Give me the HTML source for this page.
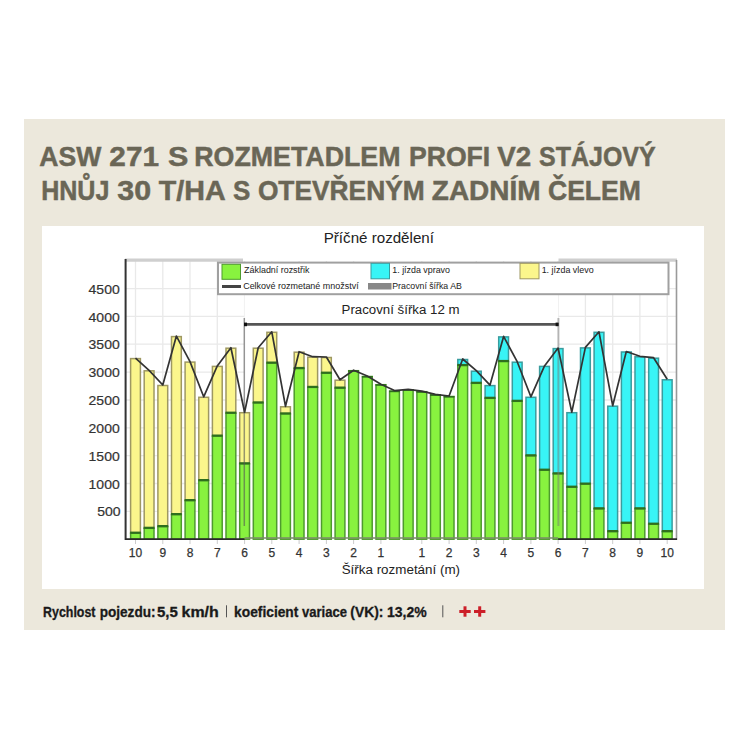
<!DOCTYPE html>
<html><head><meta charset="utf-8"><style>
html,body{margin:0;padding:0;width:750px;height:750px;overflow:hidden;background:#fff}
svg{position:absolute;left:0;top:0;display:block}
text{font-family:"Liberation Sans",sans-serif}
</style></head><body>
<svg width="750" height="750" viewBox="0 0 750 750">
<rect x="24" y="119" width="701" height="511" fill="#ECE8DC"/>
<rect x="42" y="226" width="662" height="363" fill="#fff"/>
<line x1="126" y1="511.4" x2="676" y2="511.4" stroke="#E9E9E9" stroke-width="1.3"/>
<line x1="126" y1="483.5" x2="676" y2="483.5" stroke="#E9E9E9" stroke-width="1.3"/>
<line x1="126" y1="455.7" x2="676" y2="455.7" stroke="#E9E9E9" stroke-width="1.3"/>
<line x1="126" y1="427.8" x2="676" y2="427.8" stroke="#E9E9E9" stroke-width="1.3"/>
<line x1="126" y1="400.0" x2="676" y2="400.0" stroke="#E9E9E9" stroke-width="1.3"/>
<line x1="126" y1="372.1" x2="676" y2="372.1" stroke="#E9E9E9" stroke-width="1.3"/>
<line x1="126" y1="344.2" x2="676" y2="344.2" stroke="#E9E9E9" stroke-width="1.3"/>
<line x1="126" y1="316.4" x2="676" y2="316.4" stroke="#E9E9E9" stroke-width="1.3"/>
<line x1="126" y1="288.6" x2="676" y2="288.6" stroke="#E9E9E9" stroke-width="1.3"/>
<line x1="135.5" y1="261" x2="135.5" y2="539.2" stroke="#E9E9E9" stroke-width="1.3"/>
<line x1="162.8" y1="261" x2="162.8" y2="539.2" stroke="#E9E9E9" stroke-width="1.3"/>
<line x1="190.0" y1="261" x2="190.0" y2="539.2" stroke="#E9E9E9" stroke-width="1.3"/>
<line x1="217.3" y1="261" x2="217.3" y2="539.2" stroke="#E9E9E9" stroke-width="1.3"/>
<line x1="244.6" y1="261" x2="244.6" y2="539.2" stroke="#E9E9E9" stroke-width="1.3"/>
<line x1="271.8" y1="261" x2="271.8" y2="539.2" stroke="#E9E9E9" stroke-width="1.3"/>
<line x1="299.1" y1="261" x2="299.1" y2="539.2" stroke="#E9E9E9" stroke-width="1.3"/>
<line x1="326.4" y1="261" x2="326.4" y2="539.2" stroke="#E9E9E9" stroke-width="1.3"/>
<line x1="353.6" y1="261" x2="353.6" y2="539.2" stroke="#E9E9E9" stroke-width="1.3"/>
<line x1="380.9" y1="261" x2="380.9" y2="539.2" stroke="#E9E9E9" stroke-width="1.3"/>
<line x1="421.8" y1="261" x2="421.8" y2="539.2" stroke="#E9E9E9" stroke-width="1.3"/>
<line x1="449.1" y1="261" x2="449.1" y2="539.2" stroke="#E9E9E9" stroke-width="1.3"/>
<line x1="476.3" y1="261" x2="476.3" y2="539.2" stroke="#E9E9E9" stroke-width="1.3"/>
<line x1="503.6" y1="261" x2="503.6" y2="539.2" stroke="#E9E9E9" stroke-width="1.3"/>
<line x1="530.9" y1="261" x2="530.9" y2="539.2" stroke="#E9E9E9" stroke-width="1.3"/>
<line x1="558.1" y1="261" x2="558.1" y2="539.2" stroke="#E9E9E9" stroke-width="1.3"/>
<line x1="585.4" y1="261" x2="585.4" y2="539.2" stroke="#E9E9E9" stroke-width="1.3"/>
<line x1="612.7" y1="261" x2="612.7" y2="539.2" stroke="#E9E9E9" stroke-width="1.3"/>
<line x1="639.9" y1="261" x2="639.9" y2="539.2" stroke="#E9E9E9" stroke-width="1.3"/>
<line x1="667.2" y1="261" x2="667.2" y2="539.2" stroke="#E9E9E9" stroke-width="1.3"/>
<rect x="244.6" y="294" width="313.6" height="245.2" fill="#fff"/>
<rect x="130.6" y="358.6" width="9.8" height="174.6" fill="#FBF68C" stroke="#9E9862" stroke-width="1.5"/>
<rect x="130.6" y="533.2" width="9.8" height="6.0" fill="#88F23F" stroke="#4E9A2E" stroke-width="1.5"/>
<line x1="130.1" y1="532.7" x2="140.9" y2="532.7" stroke="#2F6E1E" stroke-width="2.2"/>
<rect x="144.2" y="370.8" width="9.8" height="157.5" fill="#FBF68C" stroke="#9E9862" stroke-width="1.5"/>
<rect x="144.2" y="528.3" width="9.8" height="10.9" fill="#88F23F" stroke="#4E9A2E" stroke-width="1.5"/>
<line x1="143.7" y1="527.8" x2="154.5" y2="527.8" stroke="#2F6E1E" stroke-width="2.2"/>
<rect x="157.9" y="385.5" width="9.8" height="141.1" fill="#FBF68C" stroke="#9E9862" stroke-width="1.5"/>
<rect x="157.9" y="526.6" width="9.8" height="12.6" fill="#88F23F" stroke="#4E9A2E" stroke-width="1.5"/>
<line x1="157.4" y1="526.1" x2="168.2" y2="526.1" stroke="#2F6E1E" stroke-width="2.2"/>
<rect x="171.5" y="336.6" width="9.8" height="178.0" fill="#FBF68C" stroke="#9E9862" stroke-width="1.5"/>
<rect x="171.5" y="514.6" width="9.8" height="24.6" fill="#88F23F" stroke="#4E9A2E" stroke-width="1.5"/>
<line x1="171.0" y1="514.1" x2="181.8" y2="514.1" stroke="#2F6E1E" stroke-width="2.2"/>
<rect x="185.1" y="362.1" width="9.8" height="138.5" fill="#FBF68C" stroke="#9E9862" stroke-width="1.5"/>
<rect x="185.1" y="500.6" width="9.8" height="38.6" fill="#88F23F" stroke="#4E9A2E" stroke-width="1.5"/>
<line x1="184.6" y1="500.1" x2="195.4" y2="500.1" stroke="#2F6E1E" stroke-width="2.2"/>
<rect x="198.8" y="397.3" width="9.8" height="83.3" fill="#FBF68C" stroke="#9E9862" stroke-width="1.5"/>
<rect x="198.8" y="480.6" width="9.8" height="58.6" fill="#88F23F" stroke="#4E9A2E" stroke-width="1.5"/>
<line x1="198.3" y1="480.1" x2="209.1" y2="480.1" stroke="#2F6E1E" stroke-width="2.2"/>
<rect x="212.4" y="366.4" width="9.8" height="69.7" fill="#FBF68C" stroke="#9E9862" stroke-width="1.5"/>
<rect x="212.4" y="436.1" width="9.8" height="103.1" fill="#88F23F" stroke="#4E9A2E" stroke-width="1.5"/>
<line x1="211.9" y1="435.6" x2="222.7" y2="435.6" stroke="#2F6E1E" stroke-width="2.2"/>
<rect x="226.0" y="348.2" width="9.8" height="65.0" fill="#FBF68C" stroke="#9E9862" stroke-width="1.5"/>
<rect x="226.0" y="413.2" width="9.8" height="126.0" fill="#88F23F" stroke="#4E9A2E" stroke-width="1.5"/>
<line x1="225.5" y1="412.7" x2="236.3" y2="412.7" stroke="#2F6E1E" stroke-width="2.2"/>
<rect x="239.7" y="412.7" width="9.8" height="51.1" fill="#FBF68C" stroke="#9E9862" stroke-width="1.5"/>
<rect x="239.7" y="463.8" width="9.8" height="75.4" fill="#88F23F" stroke="#4E9A2E" stroke-width="1.5"/>
<line x1="239.2" y1="463.3" x2="250.0" y2="463.3" stroke="#2F6E1E" stroke-width="2.2"/>
<rect x="253.3" y="348.2" width="9.8" height="54.7" fill="#FBF68C" stroke="#9E9862" stroke-width="1.5"/>
<rect x="253.3" y="402.9" width="9.8" height="136.3" fill="#88F23F" stroke="#4E9A2E" stroke-width="1.5"/>
<line x1="252.8" y1="402.4" x2="263.6" y2="402.4" stroke="#2F6E1E" stroke-width="2.2"/>
<rect x="266.9" y="332.3" width="9.8" height="30.8" fill="#FBF68C" stroke="#9E9862" stroke-width="1.5"/>
<rect x="266.9" y="363.1" width="9.8" height="176.1" fill="#88F23F" stroke="#4E9A2E" stroke-width="1.5"/>
<line x1="266.4" y1="362.6" x2="277.2" y2="362.6" stroke="#2F6E1E" stroke-width="2.2"/>
<rect x="280.6" y="406.8" width="9.8" height="7.1" fill="#FBF68C" stroke="#9E9862" stroke-width="1.5"/>
<rect x="280.6" y="413.9" width="9.8" height="125.3" fill="#88F23F" stroke="#4E9A2E" stroke-width="1.5"/>
<line x1="280.1" y1="413.4" x2="290.9" y2="413.4" stroke="#2F6E1E" stroke-width="2.2"/>
<rect x="294.2" y="352.2" width="9.8" height="16.3" fill="#FBF68C" stroke="#9E9862" stroke-width="1.5"/>
<rect x="294.2" y="368.5" width="9.8" height="170.7" fill="#88F23F" stroke="#4E9A2E" stroke-width="1.5"/>
<line x1="293.7" y1="368.0" x2="304.5" y2="368.0" stroke="#2F6E1E" stroke-width="2.2"/>
<rect x="307.8" y="357.2" width="9.8" height="30.2" fill="#FBF68C" stroke="#9E9862" stroke-width="1.5"/>
<rect x="307.8" y="387.4" width="9.8" height="151.8" fill="#88F23F" stroke="#4E9A2E" stroke-width="1.5"/>
<line x1="307.3" y1="386.9" x2="318.1" y2="386.9" stroke="#2F6E1E" stroke-width="2.2"/>
<rect x="321.5" y="357.5" width="9.8" height="15.7" fill="#FBF68C" stroke="#9E9862" stroke-width="1.5"/>
<rect x="321.5" y="373.2" width="9.8" height="166.0" fill="#88F23F" stroke="#4E9A2E" stroke-width="1.5"/>
<line x1="321.0" y1="372.7" x2="331.8" y2="372.7" stroke="#2F6E1E" stroke-width="2.2"/>
<rect x="335.1" y="380.2" width="9.8" height="7.9" fill="#FBF68C" stroke="#9E9862" stroke-width="1.5"/>
<rect x="335.1" y="388.1" width="9.8" height="151.1" fill="#88F23F" stroke="#4E9A2E" stroke-width="1.5"/>
<line x1="334.6" y1="387.6" x2="345.4" y2="387.6" stroke="#2F6E1E" stroke-width="2.2"/>
<rect x="348.7" y="370.7" width="9.8" height="168.5" fill="#88F23F" stroke="#4E9A2E" stroke-width="1.5"/>
<line x1="348.2" y1="371.0" x2="359.0" y2="371.0" stroke="#2F6E1E" stroke-width="1.6"/>
<rect x="362.4" y="376.5" width="9.8" height="162.7" fill="#88F23F" stroke="#4E9A2E" stroke-width="1.5"/>
<line x1="361.9" y1="376.8" x2="372.7" y2="376.8" stroke="#2F6E1E" stroke-width="1.6"/>
<rect x="376.0" y="384.7" width="9.8" height="154.5" fill="#88F23F" stroke="#4E9A2E" stroke-width="1.5"/>
<line x1="375.5" y1="385.0" x2="386.3" y2="385.0" stroke="#2F6E1E" stroke-width="1.6"/>
<rect x="389.6" y="391.1" width="9.8" height="148.1" fill="#88F23F" stroke="#4E9A2E" stroke-width="1.5"/>
<line x1="389.1" y1="391.4" x2="399.9" y2="391.4" stroke="#2F6E1E" stroke-width="1.6"/>
<rect x="403.3" y="389.8" width="9.8" height="149.4" fill="#88F23F" stroke="#4E9A2E" stroke-width="1.5"/>
<line x1="402.8" y1="390.1" x2="413.6" y2="390.1" stroke="#2F6E1E" stroke-width="1.6"/>
<rect x="416.9" y="391.7" width="9.8" height="147.5" fill="#88F23F" stroke="#4E9A2E" stroke-width="1.5"/>
<line x1="416.4" y1="392.0" x2="427.2" y2="392.0" stroke="#2F6E1E" stroke-width="1.6"/>
<rect x="430.5" y="394.8" width="9.8" height="144.4" fill="#88F23F" stroke="#4E9A2E" stroke-width="1.5"/>
<line x1="430.0" y1="395.1" x2="440.8" y2="395.1" stroke="#2F6E1E" stroke-width="1.6"/>
<rect x="444.2" y="396.5" width="9.8" height="142.7" fill="#88F23F" stroke="#4E9A2E" stroke-width="1.5"/>
<line x1="443.7" y1="396.8" x2="454.5" y2="396.8" stroke="#2F6E1E" stroke-width="1.6"/>
<rect x="457.8" y="359.5" width="9.8" height="6.0" fill="#38F4F6" stroke="#3A9C9E" stroke-width="1.5"/>
<rect x="457.8" y="365.5" width="9.8" height="173.7" fill="#88F23F" stroke="#4E9A2E" stroke-width="1.5"/>
<line x1="457.3" y1="365.0" x2="468.1" y2="365.0" stroke="#2F6E1E" stroke-width="2.2"/>
<rect x="471.4" y="371.2" width="9.8" height="12.1" fill="#38F4F6" stroke="#3A9C9E" stroke-width="1.5"/>
<rect x="471.4" y="383.3" width="9.8" height="155.9" fill="#88F23F" stroke="#4E9A2E" stroke-width="1.5"/>
<line x1="470.9" y1="382.8" x2="481.7" y2="382.8" stroke="#2F6E1E" stroke-width="2.2"/>
<rect x="485.1" y="385.6" width="9.8" height="12.7" fill="#38F4F6" stroke="#3A9C9E" stroke-width="1.5"/>
<rect x="485.1" y="398.3" width="9.8" height="140.9" fill="#88F23F" stroke="#4E9A2E" stroke-width="1.5"/>
<line x1="484.6" y1="397.8" x2="495.4" y2="397.8" stroke="#2F6E1E" stroke-width="2.2"/>
<rect x="498.7" y="336.9" width="9.8" height="24.6" fill="#38F4F6" stroke="#3A9C9E" stroke-width="1.5"/>
<rect x="498.7" y="361.5" width="9.8" height="177.7" fill="#88F23F" stroke="#4E9A2E" stroke-width="1.5"/>
<line x1="498.2" y1="361.0" x2="509.0" y2="361.0" stroke="#2F6E1E" stroke-width="2.2"/>
<rect x="512.3" y="362.2" width="9.8" height="39.1" fill="#38F4F6" stroke="#3A9C9E" stroke-width="1.5"/>
<rect x="512.3" y="401.3" width="9.8" height="137.9" fill="#88F23F" stroke="#4E9A2E" stroke-width="1.5"/>
<line x1="511.8" y1="400.8" x2="522.6" y2="400.8" stroke="#2F6E1E" stroke-width="2.2"/>
<rect x="526.0" y="397.3" width="9.8" height="58.5" fill="#38F4F6" stroke="#3A9C9E" stroke-width="1.5"/>
<rect x="526.0" y="455.8" width="9.8" height="83.4" fill="#88F23F" stroke="#4E9A2E" stroke-width="1.5"/>
<line x1="525.5" y1="455.3" x2="536.3" y2="455.3" stroke="#2F6E1E" stroke-width="2.2"/>
<rect x="539.6" y="366.4" width="9.8" height="103.8" fill="#38F4F6" stroke="#3A9C9E" stroke-width="1.5"/>
<rect x="539.6" y="470.2" width="9.8" height="69.0" fill="#88F23F" stroke="#4E9A2E" stroke-width="1.5"/>
<line x1="539.1" y1="469.7" x2="549.9" y2="469.7" stroke="#2F6E1E" stroke-width="2.2"/>
<rect x="553.2" y="348.6" width="9.8" height="125.2" fill="#38F4F6" stroke="#3A9C9E" stroke-width="1.5"/>
<rect x="553.2" y="473.8" width="9.8" height="65.4" fill="#88F23F" stroke="#4E9A2E" stroke-width="1.5"/>
<line x1="552.7" y1="473.3" x2="563.5" y2="473.3" stroke="#2F6E1E" stroke-width="2.2"/>
<rect x="566.9" y="412.7" width="9.8" height="74.5" fill="#38F4F6" stroke="#3A9C9E" stroke-width="1.5"/>
<rect x="566.9" y="487.2" width="9.8" height="52.0" fill="#88F23F" stroke="#4E9A2E" stroke-width="1.5"/>
<line x1="566.4" y1="486.7" x2="577.2" y2="486.7" stroke="#2F6E1E" stroke-width="2.2"/>
<rect x="580.5" y="347.9" width="9.8" height="136.2" fill="#38F4F6" stroke="#3A9C9E" stroke-width="1.5"/>
<rect x="580.5" y="484.1" width="9.8" height="55.1" fill="#88F23F" stroke="#4E9A2E" stroke-width="1.5"/>
<line x1="580.0" y1="483.6" x2="590.8" y2="483.6" stroke="#2F6E1E" stroke-width="2.2"/>
<rect x="594.1" y="332.3" width="9.8" height="176.5" fill="#38F4F6" stroke="#3A9C9E" stroke-width="1.5"/>
<rect x="594.1" y="508.8" width="9.8" height="30.4" fill="#88F23F" stroke="#4E9A2E" stroke-width="1.5"/>
<line x1="593.6" y1="508.3" x2="604.4" y2="508.3" stroke="#2F6E1E" stroke-width="2.2"/>
<rect x="607.8" y="406.2" width="9.8" height="125.4" fill="#38F4F6" stroke="#3A9C9E" stroke-width="1.5"/>
<rect x="607.8" y="531.6" width="9.8" height="7.6" fill="#88F23F" stroke="#4E9A2E" stroke-width="1.5"/>
<line x1="607.3" y1="531.1" x2="618.1" y2="531.1" stroke="#2F6E1E" stroke-width="2.2"/>
<rect x="621.4" y="352.0" width="9.8" height="171.2" fill="#38F4F6" stroke="#3A9C9E" stroke-width="1.5"/>
<rect x="621.4" y="523.2" width="9.8" height="16.0" fill="#88F23F" stroke="#4E9A2E" stroke-width="1.5"/>
<line x1="620.9" y1="522.7" x2="631.7" y2="522.7" stroke="#2F6E1E" stroke-width="2.2"/>
<rect x="635.0" y="356.8" width="9.8" height="152.0" fill="#38F4F6" stroke="#3A9C9E" stroke-width="1.5"/>
<rect x="635.0" y="508.8" width="9.8" height="30.4" fill="#88F23F" stroke="#4E9A2E" stroke-width="1.5"/>
<line x1="634.5" y1="508.3" x2="645.3" y2="508.3" stroke="#2F6E1E" stroke-width="2.2"/>
<rect x="648.7" y="358.2" width="9.8" height="166.0" fill="#38F4F6" stroke="#3A9C9E" stroke-width="1.5"/>
<rect x="648.7" y="524.2" width="9.8" height="15.0" fill="#88F23F" stroke="#4E9A2E" stroke-width="1.5"/>
<line x1="648.2" y1="523.7" x2="659.0" y2="523.7" stroke="#2F6E1E" stroke-width="2.2"/>
<rect x="662.3" y="379.8" width="9.8" height="151.8" fill="#38F4F6" stroke="#3A9C9E" stroke-width="1.5"/>
<rect x="662.3" y="531.6" width="9.8" height="7.6" fill="#88F23F" stroke="#4E9A2E" stroke-width="1.5"/>
<line x1="661.8" y1="531.1" x2="672.6" y2="531.1" stroke="#2F6E1E" stroke-width="2.2"/>
<line x1="244.3" y1="318" x2="244.3" y2="526" stroke="#555" stroke-opacity="0.6" stroke-width="1.5"/>
<line x1="558.4" y1="318" x2="558.4" y2="526" stroke="#777" stroke-opacity="0.5" stroke-width="2"/>
<line x1="244.3" y1="324.4" x2="558.4" y2="324.4" stroke="#555" stroke-width="2.8"/>
<rect x="244" y="322.6" width="3" height="3.6" fill="#111"/>
<rect x="555.6" y="322.6" width="3" height="3.6" fill="#111"/>
<polyline points="135.5,358.1 149.1,370.3 162.8,385.0 176.4,336.1 190.0,361.6 203.7,396.8 217.3,365.9 230.9,347.7 244.6,412.2 258.2,347.7 271.8,331.8 285.5,406.3 299.1,351.7 312.7,356.7 326.4,357.0 340.0,379.7 353.6,370.2 367.3,376.0 380.9,384.2 394.5,390.6 408.2,389.3 421.8,391.2 435.4,394.3 449.1,396.0 462.7,359.0 476.3,370.7 490.0,385.1 503.6,336.4 517.2,361.7 530.9,396.8 544.5,365.9 558.1,348.1 571.8,412.2 585.4,347.4 599.0,331.8 612.7,405.7 626.3,351.5 639.9,356.3 653.6,357.7 667.2,379.3" fill="none" stroke="#333" stroke-width="1.7" stroke-linejoin="round"/>
<line x1="125" y1="260.2" x2="243" y2="260.2" stroke="#CFCFCF" stroke-width="3.2"/>
<line x1="558.5" y1="260.2" x2="677" y2="260.2" stroke="#CFCFCF" stroke-width="3.2"/>
<line x1="676.5" y1="260" x2="676.5" y2="540" stroke="#9A9A9A" stroke-width="1.6"/>
<line x1="125.6" y1="259" x2="125.6" y2="540" stroke="#333" stroke-width="2"/>
<line x1="125" y1="539.2" x2="244.6" y2="539.2" stroke="#2A2A2A" stroke-width="1.8"/>
<line x1="558.1" y1="539.2" x2="677" y2="539.2" stroke="#2A2A2A" stroke-width="1.8"/>
<line x1="244.6" y1="538" x2="558.1" y2="538" stroke="#7A8A6A" stroke-width="1.6"/>
<line x1="135.5" y1="540" x2="135.5" y2="544" stroke="#CCC" stroke-width="1"/>
<text x="135.5" y="557" font-size="12" text-anchor="middle" fill="#333" stroke="#333" stroke-width="0.25">10</text>
<line x1="162.8" y1="540" x2="162.8" y2="544" stroke="#CCC" stroke-width="1"/>
<text x="162.8" y="557" font-size="12" text-anchor="middle" fill="#333" stroke="#333" stroke-width="0.25">9</text>
<line x1="190.0" y1="540" x2="190.0" y2="544" stroke="#CCC" stroke-width="1"/>
<text x="190.0" y="557" font-size="12" text-anchor="middle" fill="#333" stroke="#333" stroke-width="0.25">8</text>
<line x1="217.3" y1="540" x2="217.3" y2="544" stroke="#CCC" stroke-width="1"/>
<text x="217.3" y="557" font-size="12" text-anchor="middle" fill="#333" stroke="#333" stroke-width="0.25">7</text>
<line x1="244.6" y1="540" x2="244.6" y2="544" stroke="#CCC" stroke-width="1"/>
<text x="244.6" y="557" font-size="12" text-anchor="middle" fill="#333" stroke="#333" stroke-width="0.25">6</text>
<line x1="271.8" y1="540" x2="271.8" y2="544" stroke="#CCC" stroke-width="1"/>
<text x="271.8" y="557" font-size="12" text-anchor="middle" fill="#333" stroke="#333" stroke-width="0.25">5</text>
<line x1="299.1" y1="540" x2="299.1" y2="544" stroke="#CCC" stroke-width="1"/>
<text x="299.1" y="557" font-size="12" text-anchor="middle" fill="#333" stroke="#333" stroke-width="0.25">4</text>
<line x1="326.4" y1="540" x2="326.4" y2="544" stroke="#CCC" stroke-width="1"/>
<text x="326.4" y="557" font-size="12" text-anchor="middle" fill="#333" stroke="#333" stroke-width="0.25">3</text>
<line x1="353.6" y1="540" x2="353.6" y2="544" stroke="#CCC" stroke-width="1"/>
<text x="353.6" y="557" font-size="12" text-anchor="middle" fill="#333" stroke="#333" stroke-width="0.25">2</text>
<line x1="380.9" y1="540" x2="380.9" y2="544" stroke="#CCC" stroke-width="1"/>
<text x="380.9" y="557" font-size="12" text-anchor="middle" fill="#333" stroke="#333" stroke-width="0.25">1</text>
<line x1="421.8" y1="540" x2="421.8" y2="544" stroke="#CCC" stroke-width="1"/>
<text x="421.8" y="557" font-size="12" text-anchor="middle" fill="#333" stroke="#333" stroke-width="0.25">1</text>
<line x1="449.1" y1="540" x2="449.1" y2="544" stroke="#CCC" stroke-width="1"/>
<text x="449.1" y="557" font-size="12" text-anchor="middle" fill="#333" stroke="#333" stroke-width="0.25">2</text>
<line x1="476.3" y1="540" x2="476.3" y2="544" stroke="#CCC" stroke-width="1"/>
<text x="476.3" y="557" font-size="12" text-anchor="middle" fill="#333" stroke="#333" stroke-width="0.25">3</text>
<line x1="503.6" y1="540" x2="503.6" y2="544" stroke="#CCC" stroke-width="1"/>
<text x="503.6" y="557" font-size="12" text-anchor="middle" fill="#333" stroke="#333" stroke-width="0.25">4</text>
<line x1="530.9" y1="540" x2="530.9" y2="544" stroke="#CCC" stroke-width="1"/>
<text x="530.9" y="557" font-size="12" text-anchor="middle" fill="#333" stroke="#333" stroke-width="0.25">5</text>
<line x1="558.1" y1="540" x2="558.1" y2="544" stroke="#CCC" stroke-width="1"/>
<text x="558.1" y="557" font-size="12" text-anchor="middle" fill="#333" stroke="#333" stroke-width="0.25">6</text>
<line x1="585.4" y1="540" x2="585.4" y2="544" stroke="#CCC" stroke-width="1"/>
<text x="585.4" y="557" font-size="12" text-anchor="middle" fill="#333" stroke="#333" stroke-width="0.25">7</text>
<line x1="612.7" y1="540" x2="612.7" y2="544" stroke="#CCC" stroke-width="1"/>
<text x="612.7" y="557" font-size="12" text-anchor="middle" fill="#333" stroke="#333" stroke-width="0.25">8</text>
<line x1="639.9" y1="540" x2="639.9" y2="544" stroke="#CCC" stroke-width="1"/>
<text x="639.9" y="557" font-size="12" text-anchor="middle" fill="#333" stroke="#333" stroke-width="0.25">9</text>
<line x1="667.2" y1="540" x2="667.2" y2="544" stroke="#CCC" stroke-width="1"/>
<text x="667.2" y="557" font-size="12" text-anchor="middle" fill="#333" stroke="#333" stroke-width="0.25">10</text>
<rect x="218" y="262.6" width="450.5" height="31.6" fill="#fff" stroke="#A0A0A0" stroke-width="2"/>
<rect x="222" y="264.3" width="18.5" height="15" fill="#88F23F" stroke="#4E9A2E" stroke-width="1"/>
<rect x="371" y="263.3" width="18.5" height="15.5" fill="#38F4F6" stroke="#3A9C9E" stroke-width="1"/>
<rect x="520" y="263.3" width="19" height="15.5" fill="#FBF68C" stroke="#9E9862" stroke-width="1"/>
<line x1="222" y1="286.5" x2="241" y2="286.5" stroke="#444" stroke-width="3"/>
<rect x="368" y="283" width="23.5" height="6.5" fill="#888"/>
<text x="39.27" y="165.80" font-size="28.5" font-weight="bold" fill="#6A6656" textLength="62.00" lengthAdjust="spacingAndGlyphs"  stroke="#6A6656" stroke-width="0.5">ASW</text>
<text x="109.36" y="165.80" font-size="28.5" font-weight="bold" fill="#6A6656" textLength="49.63" lengthAdjust="spacingAndGlyphs"  stroke="#6A6656" stroke-width="0.5">271</text>
<text x="167.93" y="165.80" font-size="28.5" font-weight="bold" fill="#6A6656" textLength="20.36" lengthAdjust="spacingAndGlyphs"  stroke="#6A6656" stroke-width="0.5">S</text>
<text x="194.22" y="165.80" font-size="28.5" font-weight="bold" fill="#6A6656" textLength="206.32" lengthAdjust="spacingAndGlyphs"  stroke="#6A6656" stroke-width="0.5">ROZMETADLEM</text>
<text x="408.93" y="165.80" font-size="28.5" font-weight="bold" fill="#6A6656" textLength="81.32" lengthAdjust="spacingAndGlyphs"  stroke="#6A6656" stroke-width="0.5">PROFI</text>
<text x="497.30" y="165.80" font-size="28.5" font-weight="bold" fill="#6A6656" textLength="33.95" lengthAdjust="spacingAndGlyphs"  stroke="#6A6656" stroke-width="0.5">V2</text>
<text x="539.12" y="165.80" font-size="28.5" font-weight="bold" fill="#6A6656" textLength="116.49" lengthAdjust="spacingAndGlyphs"  stroke="#6A6656" stroke-width="0.5">STÁJOVÝ</text>
<text x="41.14" y="199.70" font-size="28.5" font-weight="bold" fill="#6A6656" textLength="68.28" lengthAdjust="spacingAndGlyphs"  stroke="#6A6656" stroke-width="0.5">HNŮJ</text>
<text x="117.33" y="199.70" font-size="28.5" font-weight="bold" fill="#6A6656" textLength="33.82" lengthAdjust="spacingAndGlyphs"  stroke="#6A6656" stroke-width="0.5">30</text>
<text x="158.80" y="199.70" font-size="28.5" font-weight="bold" fill="#6A6656" textLength="66.90" lengthAdjust="spacingAndGlyphs"  stroke="#6A6656" stroke-width="0.5">T/HA</text>
<text x="233.09" y="199.70" font-size="28.5" font-weight="bold" fill="#6A6656" textLength="17.34" lengthAdjust="spacingAndGlyphs"  stroke="#6A6656" stroke-width="0.5">S</text>
<text x="257.88" y="199.70" font-size="28.5" font-weight="bold" fill="#6A6656" textLength="166.84" lengthAdjust="spacingAndGlyphs"  stroke="#6A6656" stroke-width="0.5">OTEVŘENÝM</text>
<text x="431.82" y="199.70" font-size="28.5" font-weight="bold" fill="#6A6656" textLength="108.78" lengthAdjust="spacingAndGlyphs"  stroke="#6A6656" stroke-width="0.5">ZADNÍM</text>
<text x="547.97" y="199.70" font-size="28.5" font-weight="bold" fill="#6A6656" textLength="92.96" lengthAdjust="spacingAndGlyphs"  stroke="#6A6656" stroke-width="0.5">ČELEM</text>
<text x="323.72" y="242.70" font-size="14" font-weight="normal" fill="#222" textLength="110.23" lengthAdjust="spacingAndGlyphs" >Příčné rozdělení</text>
<text x="341.59" y="313.70" font-size="12" font-weight="normal" fill="#222" textLength="118.00" lengthAdjust="spacingAndGlyphs" >Pracovní šířka 12 m</text>
<text x="341.68" y="573.80" font-size="12" font-weight="normal" fill="#222" textLength="118.37" lengthAdjust="spacingAndGlyphs" >Šířka rozmetání (m)</text>
<text x="244.10" y="272.80" font-size="9.6" font-weight="normal" fill="#222" textLength="65.35" lengthAdjust="spacingAndGlyphs" >Základní rozstřik</text>
<text x="243.17" y="288.50" font-size="9.6" font-weight="normal" fill="#222" textLength="115.49" lengthAdjust="spacingAndGlyphs" >Celkové rozmetané množství</text>
<text x="392.28" y="272.80" font-size="9.6" font-weight="normal" fill="#222" textLength="57.70" lengthAdjust="spacingAndGlyphs" >1. jízda vpravo</text>
<text x="392.29" y="288.50" font-size="9.6" font-weight="normal" fill="#222" textLength="69.54" lengthAdjust="spacingAndGlyphs" >Pracovní šířka AB</text>
<text x="541.67" y="272.80" font-size="9.6" font-weight="normal" fill="#222" textLength="52.03" lengthAdjust="spacingAndGlyphs" >1. jízda vlevo</text>
<text x="97.21" y="516.45" font-size="13" font-weight="normal" fill="#333" textLength="23.35" lengthAdjust="spacingAndGlyphs"  stroke="#333" stroke-width="0.2">500</text>
<text x="88.60" y="488.60" font-size="13" font-weight="normal" fill="#333" textLength="31.12" lengthAdjust="spacingAndGlyphs"  stroke="#333" stroke-width="0.2">1000</text>
<text x="88.60" y="460.75" font-size="13" font-weight="normal" fill="#333" textLength="31.12" lengthAdjust="spacingAndGlyphs"  stroke="#333" stroke-width="0.2">1500</text>
<text x="88.60" y="432.90" font-size="13" font-weight="normal" fill="#333" textLength="31.12" lengthAdjust="spacingAndGlyphs"  stroke="#333" stroke-width="0.2">2000</text>
<text x="88.60" y="405.05" font-size="13" font-weight="normal" fill="#333" textLength="31.12" lengthAdjust="spacingAndGlyphs"  stroke="#333" stroke-width="0.2">2500</text>
<text x="88.60" y="377.20" font-size="13" font-weight="normal" fill="#333" textLength="31.12" lengthAdjust="spacingAndGlyphs"  stroke="#333" stroke-width="0.2">3000</text>
<text x="88.60" y="349.35" font-size="13" font-weight="normal" fill="#333" textLength="31.12" lengthAdjust="spacingAndGlyphs"  stroke="#333" stroke-width="0.2">3500</text>
<text x="88.60" y="321.50" font-size="13" font-weight="normal" fill="#333" textLength="31.12" lengthAdjust="spacingAndGlyphs"  stroke="#333" stroke-width="0.2">4000</text>
<text x="88.60" y="293.65" font-size="13" font-weight="normal" fill="#333" textLength="31.12" lengthAdjust="spacingAndGlyphs"  stroke="#333" stroke-width="0.2">4500</text>
<text x="43.12" y="616.70" font-size="14" font-weight="bold" fill="#1A1A1A" textLength="52.30" lengthAdjust="spacingAndGlyphs"  stroke="#1A1A1A" stroke-width="0.3">Rychlost</text>
<text x="99.73" y="616.70" font-size="14" font-weight="bold" fill="#1A1A1A" textLength="55.77" lengthAdjust="spacingAndGlyphs"  stroke="#1A1A1A" stroke-width="0.3">pojezdu:</text>
<text x="156.93" y="616.70" font-size="14" font-weight="bold" fill="#1A1A1A" textLength="20.87" lengthAdjust="spacingAndGlyphs"  stroke="#1A1A1A" stroke-width="0.3">5,5</text>
<text x="181.56" y="616.70" font-size="14" font-weight="bold" fill="#1A1A1A" textLength="37.22" lengthAdjust="spacingAndGlyphs"  stroke="#1A1A1A" stroke-width="0.3">km/h</text>
<text x="234.12" y="616.70" font-size="14" font-weight="bold" fill="#1A1A1A" textLength="64.24" lengthAdjust="spacingAndGlyphs"  stroke="#1A1A1A" stroke-width="0.3">koeficient</text>
<text x="302.00" y="616.70" font-size="14" font-weight="bold" fill="#1A1A1A" textLength="44.96" lengthAdjust="spacingAndGlyphs"  stroke="#1A1A1A" stroke-width="0.3">variace</text>
<text x="350.31" y="616.70" font-size="14" font-weight="bold" fill="#1A1A1A" textLength="33.11" lengthAdjust="spacingAndGlyphs"  stroke="#1A1A1A" stroke-width="0.3">(VK):</text>
<text x="387.00" y="616.70" font-size="14" font-weight="bold" fill="#1A1A1A" textLength="39.70" lengthAdjust="spacingAndGlyphs"  stroke="#1A1A1A" stroke-width="0.3">13,2%</text>
<rect x="226" y="605.3" width="1" height="12" fill="#555"/>
<rect x="442.3" y="605.3" width="1" height="12" fill="#555"/>
<g fill="#CC1F28">
<rect x="459.3" y="610" width="11.4" height="3"/><rect x="463.5" y="606.3" width="3" height="10.4"/>
<rect x="474" y="610" width="11.4" height="3"/><rect x="478.2" y="606.3" width="3" height="10.4"/>
</g>
</svg>
</body></html>
